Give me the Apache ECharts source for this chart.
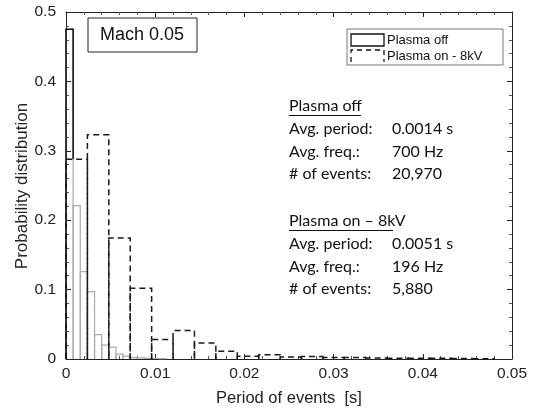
<!DOCTYPE html>
<html><head><meta charset="utf-8">
<script src="https://cdn.jsdelivr.net/npm/echarts@6/dist/echarts.min.js"></script>
<style>html,body{margin:0;padding:0;background:#fff}#c{width:537px;height:412px}</style>
</head><body><div id="c"></div>
<script>
// Data
var offBinWidth = 0.0008;
var offHeights = [0.475, 0.221, 0.126, 0.097, 0.035, 0.020, 0.017, 0.007, 0.004, 0.002, 0.0015, 0.001, 0.0007, 0.0005];
var onBinWidth = 0.0024;
var onHeights = [0.288, 0.323, 0.1745, 0.102, 0.028, 0.041, 0.023, 0.011, 0.004, 0.006, 0.003, 0.0035, 0.002, 0.002, 0.0015, 0.001, 0.001, 0.001, 0.0007, 0.0005];
var xTicks = [0, 0.01, 0.02, 0.03, 0.04, 0.05];
var yTicks = [0, 0.1, 0.2, 0.3, 0.4, 0.5];
var offStats = ['Plasma off', 'Avg. period:', '0.0014 s', 'Avg. freq.:', '700 Hz', '# of events:', '20,970'];
var onStats = ['Plasma on \u2013 8kV', 'Avg. period:', '0.0051 s', 'Avg. freq.:', '196 Hz', '# of events:', '5,880'];

function toBins(h, w) { return h.map(function (v, i) { return [i * w, (i + 1) * w, v]; }); }

var chart = echarts.init(document.getElementById('c'), null, { renderer: 'canvas' });
var font = '"Liberation Sans", Arial, sans-serif';
var txtFont = 'Lato, "Open Sans", sans-serif';
function mk(extra) {
  return Object.assign({
    type: 'value', min: 0,
    axisLine: { show: true, onZero: false, lineStyle: { color: '#222', width: 1 } },
    axisTick: { show: true, inside: true, length: 5, lineStyle: { color: '#222' } },
    minorTick: { show: true, splitNumber: 5, length: 3, lineStyle: { color: '#555' } },
    splitLine: { show: false }
  }, extra);
}

var graphics = [
  { type: 'rect', shape: { x: 88, y: 18, width: 109, height: 34 }, style: { fill: '#fff', stroke: '#222', lineWidth: 1 }, z: 100 },
  { type: 'text', x: 142, y: 35, style: { text: 'Mach 0.05', font: '18px ' + font, fill: '#111', align: 'center', verticalAlign: 'middle' }, z: 101 },
  { type: 'rect', shape: { x: 347, y: 29, width: 156, height: 36 }, style: { fill: '#fff', stroke: '#777', lineWidth: 1 }, z: 100 },
  { type: 'rect', shape: { x: 351, y: 34, width: 33, height: 12 }, style: { fill: 'none', stroke: '#111', lineWidth: 1.3 }, z: 101 },
  { type: 'polyline', shape: { points: [[351, 62], [351, 50], [384, 50], [384, 62]] }, style: { fill: 'none', stroke: '#111', lineWidth: 1.3, lineDash: [5, 4] }, z: 101 },
  { type: 'text', x: 387, y: 40, style: { text: 'Plasma off', font: '13px ' + font, fill: '#111', verticalAlign: 'middle' }, z: 101 },
  { type: 'text', x: 387, y: 56, style: { text: 'Plasma on - 8kV', font: '13px ' + font, fill: '#111', verticalAlign: 'middle' }, z: 101 },
  { type: 'text', x: 22, y: 186, rotation: Math.PI / 2, style: { text: 'Probability distribution', font: '17px ' + font, fill: '#222', align: 'center', verticalAlign: 'middle' }, z: 101 }
];
function statBlock(arr, y0, ulw) {
  var lh = 22.7;
  graphics.push({ type: 'text', x: 289, y: y0, style: { text: arr[0], font: '16px ' + txtFont, fill: '#111', verticalAlign: 'middle' }, z: 101 });
  graphics.push({ type: 'line', shape: { x1: 289, y1: y0 + 9.5, x2: 289 + ulw, y2: y0 + 9.5 }, style: { stroke: '#111', lineWidth: 1 }, z: 101 });
  for (var i = 0; i < 3; i++) {
    graphics.push({ type: 'text', x: 289, y: y0 + lh * (i + 1), style: { text: arr[1 + 2 * i], font: '16px ' + txtFont, fill: '#111', verticalAlign: 'middle' }, z: 101 });
    graphics.push({ type: 'text', x: 392, y: y0 + lh * (i + 1), style: { text: arr[2 + 2 * i], font: '16px ' + txtFont, fill: '#111', verticalAlign: 'middle' }, z: 101 });
  }
}
statBlock(offStats, 106, 72);
statBlock(onStats, 221, 104);

function rectOutline(api, color, dash, lw) {
  var x0 = api.value(0), x1 = api.value(1), h = api.value(2);
  var p0 = api.coord([x0, 0]), p1 = api.coord([x0, h]), p2 = api.coord([x1, h]), p3 = api.coord([x1, 0]);
  return { type: 'polyline', shape: { points: [p0, p1, p2, p3] }, style: { fill: 'none', stroke: color, lineWidth: lw, lineDash: dash } };
}

chart.setOption({
  animation: false,
  grid: { left: 66, right: 25, top: 12, bottom: 51 },
  xAxis: [
    mk({ max: 0.05, interval: 0.01, position: 'bottom',
      axisLabel: { color: '#222', fontFamily: font, fontSize: 15.5, margin: 7, formatter: function (v) { return xTicks.indexOf(+v.toFixed(3)) >= 0 ? String(+v.toFixed(3)) : ''; } },
      name: 'Period of events  [s]', nameLocation: 'middle', nameGap: 31, nameTextStyle: { color: '#222', fontFamily: font, fontSize: 16.5 } }),
    mk({ max: 0.05, interval: 0.01, position: 'top', axisLabel: { show: false } })
  ],
  yAxis: [
    mk({ max: 0.5, interval: 0.1, position: 'left',
      axisLabel: { color: '#222', fontFamily: font, fontSize: 15.5, margin: 10, formatter: function (v) { return yTicks.indexOf(+v.toFixed(2)) >= 0 ? String(+v.toFixed(2)) : ''; } } }),
    mk({ max: 0.5, interval: 0.1, position: 'right', axisLabel: { show: false } })
  ],
  series: [
    { type: 'custom', name: 'Plasma off', data: toBins(offHeights, offBinWidth), z: 3,
      renderItem: function (p, api) { return rectOutline(api, '#aaa', null, 1.2); } },
    { type: 'custom', name: 'Plasma on - 8kV', data: toBins(onHeights, onBinWidth), z: 4,
      renderItem: function (p, api) { return rectOutline(api, '#1a1a1a', [6, 4], 1.5); } },
    { type: 'custom', name: 'Plasma off top', data: [[0, offBinWidth, offHeights[0], onHeights[0]]], z: 5,
      renderItem: function (p, api) {
        var x0 = api.value(0), x1 = api.value(1), h = api.value(2), h2 = api.value(3);
        return { type: 'polyline', shape: { points: [api.coord([x0, 0]), api.coord([x0, h]), api.coord([x1, h]), api.coord([x1, h2])] },
          style: { fill: 'none', stroke: '#111', lineWidth: 1.5 } };
      } }
  ],
  graphic: graphics
});
</script></body></html>
